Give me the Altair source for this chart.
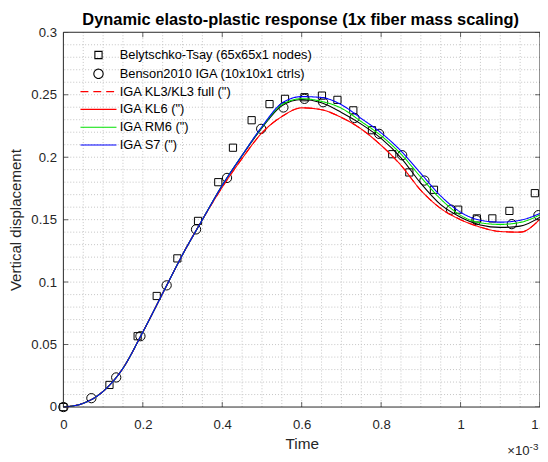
import altair as alt
import pandas as pd

# ---------------- data ----------------
series_names = [
    'Belytschko-Tsay (65x65x1 nodes)',
    'Benson2010 IGA (10x10x1 ctrls)',
    'IGA KL3/KL3 full (")',
    'IGA KL6 (")',
    'IGA RM6 (")',
    'IGA S7 (")',
]
series_colors = ['#000000', '#000000', '#ff0000', '#ff0000', '#00e000', '#0000ff']

# time in units of 1e-3 s
bt_time = [0.0, 0.116, 0.187, 0.235, 0.287, 0.339, 0.390, 0.427, 0.474, 0.519, 0.558, 0.607,
           0.651, 0.690, 0.730, 0.777, 0.828, 0.871, 0.933, 0.994, 1.041, 1.080, 1.123, 1.187]
bt_disp = [0.0, 0.0177, 0.0567, 0.0889, 0.119, 0.149, 0.180, 0.2076, 0.2296, 0.2425, 0.2467, 0.2480,
           0.2493, 0.2459, 0.2375, 0.2216, 0.2024, 0.1878, 0.1739, 0.1580, 0.1510, 0.1510, 0.1570, 0.1712]

benson_time = [0.0, 0.0705, 0.133, 0.194, 0.260, 0.334, 0.412, 0.498, 0.554, 0.607, 0.654, 0.733,
               0.795, 0.853, 0.909, 0.976, 1.040, 1.129, 1.196]
benson_disp = [0.0, 0.0071, 0.0237, 0.0567, 0.0974, 0.1422, 0.1834, 0.2227, 0.2398, 0.2467, 0.2440,
               0.2314, 0.2187, 0.2016, 0.1813, 0.1580, 0.1496, 0.1464, 0.1536]

curve_time = [0.0, 0.05, 0.10, 0.15, 0.20, 0.25, 0.30, 0.35, 0.40, 0.45, 0.50, 0.55, 0.60,
              0.65, 0.70, 0.75, 0.80, 0.85, 0.90, 0.95, 1.00, 1.05, 1.10, 1.15, 1.20]
kl3_disp = [0.0, 0.003, 0.0125, 0.031, 0.060, 0.091, 0.122, 0.150, 0.1760, 0.1990, 0.2195, 0.2325, 0.2395,
            0.2380, 0.2318, 0.2225, 0.2095, 0.1935, 0.1735, 0.1590, 0.1500, 0.1440, 0.1405, 0.1400, 0.1505]
kl6_disp = [0.0, 0.003, 0.0125, 0.031, 0.060, 0.091, 0.122, 0.150, 0.1760, 0.1990, 0.2195, 0.2325, 0.2395,
            0.2380, 0.2318, 0.2225, 0.2095, 0.1935, 0.1735, 0.1590, 0.1500, 0.1440, 0.1405, 0.1400, 0.1505]
rm6_disp = [0.0, 0.003, 0.0125, 0.031, 0.060, 0.091, 0.122, 0.150, 0.1775, 0.2015, 0.2240, 0.2420, 0.2468,
            0.2447, 0.2392, 0.2285, 0.2172, 0.2025, 0.1840, 0.1665, 0.1535, 0.1475, 0.1462, 0.1478, 0.1538]
s7_disp = [0.0, 0.003, 0.0125, 0.031, 0.060, 0.091, 0.122, 0.150, 0.1775, 0.2015, 0.2245, 0.2432, 0.2485,
           0.2478, 0.2420, 0.2310, 0.2195, 0.2050, 0.1870, 0.1690, 0.1560, 0.1495, 0.1480, 0.1495, 0.1550]
# unlabeled black curve
black_disp = [0.0, 0.003, 0.0125, 0.031, 0.060, 0.091, 0.122, 0.150, 0.1775, 0.2012, 0.2235, 0.2412, 0.2462,
              0.2435, 0.2358, 0.2265, 0.2150, 0.1995, 0.1790, 0.1620, 0.1520, 0.1458, 0.1438, 0.1448, 0.1520]

x_major = [0.0, 0.2, 0.4, 0.6, 0.8, 1.0, 1.2]
y_major = [0.0, 0.05, 0.10, 0.15, 0.20, 0.25, 0.30]
x_grid = [round(i * 0.05, 2) for i in range(1, 24)]
y_grid = [round(i * 0.01, 2) for i in range(1, 30)]

# ---------------- tables ----------------
pts = pd.concat([
    pd.DataFrame({'t': bt_time, 'v': bt_disp, 'series': series_names[0]}),
    pd.DataFrame({'t': benson_time, 'v': benson_disp, 'series': series_names[1]}),
])
lines = pd.concat([
    pd.DataFrame({'t': curve_time, 'v': kl3_disp, 'series': series_names[2]}),
    pd.DataFrame({'t': curve_time, 'v': kl6_disp, 'series': series_names[3]}),
    pd.DataFrame({'t': curve_time, 'v': rm6_disp, 'series': series_names[4]}),
    pd.DataFrame({'t': curve_time, 'v': s7_disp, 'series': series_names[5]}),
])
black = pd.DataFrame({'t': curve_time, 'v': black_disp})

FONT = 'Liberation Sans'
INK = '#262626'
line_path = 'M-5,0H5'
square_path = 'M-5,0M5,0M-1,-1H1V1H-1Z'
circle_path = 'M-5,0M5,0M-1.29,0A1.29,1.29,0,1,1,1.29,0A1.29,1.29,0,1,1,-1.29,0Z'
shapes = [square_path, circle_path, line_path, line_path, line_path, line_path]
dashes = [[1, 0], [1, 0], [8, 5], [1, 0], [1, 0], [1, 0]]

leg = alt.Legend(title=None, orient='none', legendX=29, legendY=16.5, labelFontSize=13,
                 labelFont=FONT, labelColor='#000000', symbolSize=53, symbolStrokeWidth=1.1,
                 labelOffset=15, rowPadding=4.0, padding=0, labelLimit=400,
                 symbolFillColor='transparent', symbolOpacity=1)

xs = alt.Scale(domain=[0, 1.2], nice=False, zero=False)
ys = alt.Scale(domain=[0, 0.3], nice=False, zero=False)

x_axis = alt.Axis(values=x_major, format='~g', grid=False, ticks=False, domain=False, labelFlush=False,
                  labelOverlap=False, labelPadding=11, title='Time', titlePadding=6)
y_axis = alt.Axis(values=y_major, format='~g', grid=False, ticks=False, domain=False, labelOverlap=False,
                  labelPadding=7, title='Vertical displacement', titlePadding=7, titleFontSize=15.2)
X = alt.X('t:Q', scale=xs, axis=x_axis)
Y = alt.Y('v:Q', scale=ys, axis=y_axis)

color_enc = alt.Color('series:N', scale=alt.Scale(domain=series_names, range=series_colors), legend=leg)
shape_enc = alt.Shape('series:N', scale=alt.Scale(domain=series_names, range=shapes), legend=leg)
dash_enc = alt.StrokeDash('series:N', scale=alt.Scale(domain=series_names, range=dashes), legend=leg)

# dotted grid at every minor tick position
grid_x = alt.Chart(pd.DataFrame({'t': x_grid})).mark_rule(
    color='#c4c4c4', strokeDash=[1, 2], strokeWidth=1).encode(x=X)
grid_y = alt.Chart(pd.DataFrame({'v': y_grid})).mark_rule(
    color='#c4c4c4', strokeDash=[1, 2], strokeWidth=1).encode(y=Y)

points = alt.Chart(pts).mark_point(filled=False, size=53, strokeWidth=1, opacity=1).encode(
    x=X, y=Y, color=color_enc, shape=shape_enc)

black_line = alt.Chart(black).mark_line(color='#000000', strokeWidth=1.1, interpolate='monotone').encode(
    x=X, y=Y)

colored = alt.Chart(lines).mark_line(strokeWidth=1.1, interpolate='monotone').encode(
    x=X, y=Y, color=color_enc, strokeDash=dash_enc)

xt_bottom = pd.DataFrame({'t': x_major, 'v': 0.0})
xt_top = pd.DataFrame({'t': x_major, 'v': 0.3})
yt_left = pd.DataFrame({'v': y_major, 't': 0.0})
yt_right = pd.DataFrame({'v': y_major, 't': 1.2})


def tick_layer(df, orient):
    return alt.Chart(df).mark_tick(orient=orient, size=10, thickness=1, clip=True, color=INK).encode(
        x=X, y=Y)


ticks = [tick_layer(xt_bottom, 'vertical'), tick_layer(xt_top, 'vertical'),
         tick_layer(yt_left, 'horizontal'), tick_layer(yt_right, 'horizontal')]

border_v = alt.Chart(pd.DataFrame({'t': [0.0, 1.2]})).mark_rule(color=INK, strokeWidth=1).encode(x=X)
border_h = alt.Chart(pd.DataFrame({'v': [0.0, 0.3]})).mark_rule(color=INK, strokeWidth=1).encode(y=Y)

anchor = pd.DataFrame({'t': [1.2], 'v': [0.0]})
exp_base = alt.Chart(anchor).mark_text(text='×10', align='right', baseline='alphabetic', dx=-10.5, dy=49,
                                       fontSize=13.3, font=FONT, color=INK).encode(x=X, y=Y)
exp_sup = alt.Chart(anchor).mark_text(text='-3', align='left', baseline='alphabetic', dx=-10.5, dy=43,
                                      fontSize=10, font=FONT, color=INK).encode(x=X, y=Y)

chart = alt.layer(
    grid_x, grid_y, points, black_line, colored, *ticks,
    border_v, border_h, exp_base, exp_sup
).properties(
    width=482, height=379,
    padding={'left': 56, 'top': 22, 'right': 0, 'bottom': 50},
    autosize=alt.AutoSizeParams(type='none'),
    title=alt.TitleParams('Dynamic elasto-plastic response (1x fiber mass scaling)', fontSize=16.6,
                          fontWeight='bold', font=FONT, color='#000000', offset=6, dx=-1, dy=9,
                          anchor='middle', frame='group'),
).configure(font=FONT).configure_view(stroke=None).configure_axis(
    labelFontSize=13.3, labelFont=FONT, labelColor=INK,
    titleFontSize=15.5, titleFont=FONT, titleColor=INK, titleFontWeight='normal'
)

chart.save('out.html', embed_options={'renderer': 'svg', 'actions': False})
